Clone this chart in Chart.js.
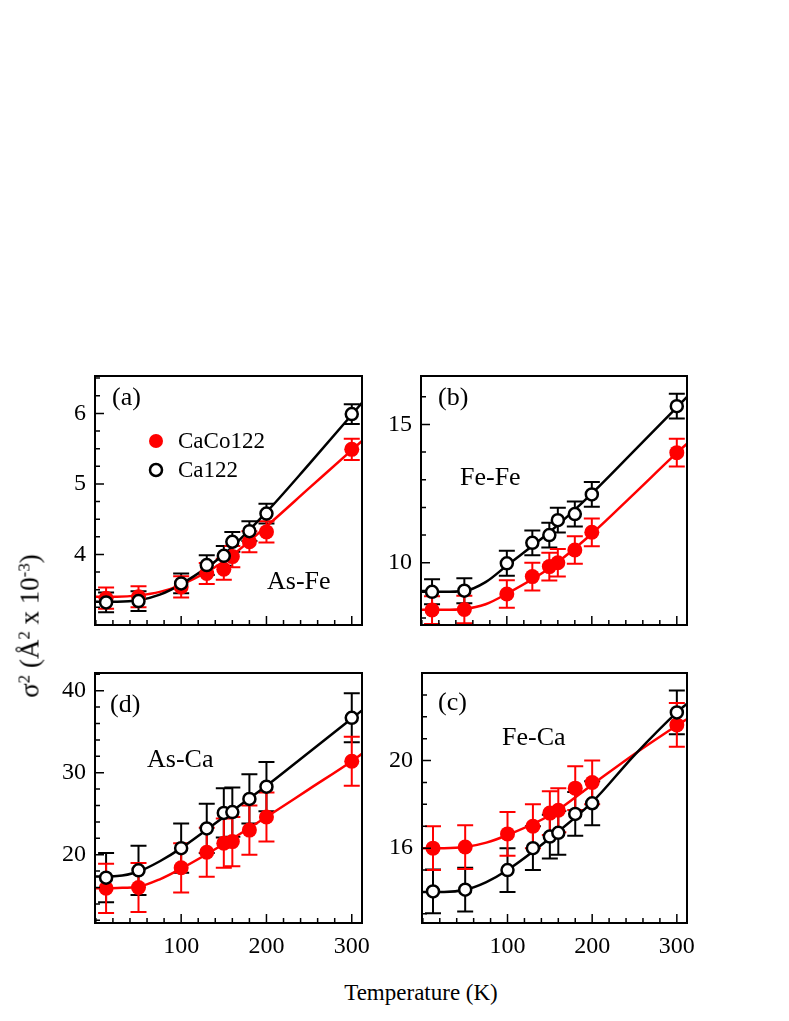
<!DOCTYPE html>
<html lang="en">
<head>
  <meta charset="UTF-8">
  <title>Mean square relative displacements</title>
  <script src="https://cdn.jsdelivr.net/npm/chart.js"></script>
  <style>
    body {
      margin: 0;
      background: #ffffff;
      font-family: "Liberation Serif", "Times New Roman", serif;
    }
    #page {
      position: relative;
      width: 789px;
      height: 1021px;
    }
    .panel { position: absolute; }
    #panelA { left: 25px; top: 346px; }
    #panelB { left: 351px; top: 346px; }
    #panelD { left: 25px; top: 643px; }
    #panelC { left: 352px; top: 643px; }
    #yTitle {
      position: absolute;
      left: 30px;
      top: 626px;
      transform: translate(-50%, -50%) rotate(-90deg);
      white-space: nowrap;
      font-size: 27px;
      color: #000;
    }
    #yTitle sup { font-size: 0.62em; vertical-align: 0.55em; line-height: 0; }
    #xTitle {
      position: absolute;
      left: 421px;
      top: 993px;
      transform: translate(-50%, -50%);
      white-space: nowrap;
      font-size: 23px;
      color: #000;
    }
  </style>
</head>
<body>
<div id="page">
  <div class="panel" id="panelA"><canvas id="chartA" width="367" height="324"></canvas></div>
  <div class="panel" id="panelB"><canvas id="chartB" width="366" height="324"></canvas></div>
  <div class="panel" id="panelD"><canvas id="chartD" width="367" height="325"></canvas></div>
  <div class="panel" id="panelC"><canvas id="chartC" width="365" height="325"></canvas></div>
  <div id="yTitle">&sigma;<sup>2</sup> (&Aring;<sup>2</sup> x 10<sup>-3</sup>)</div>
  <div id="xTitle">Temperature (K)</div>
</div>

<script>
  // measurement temperatures (K)
  const temps = [12, 50, 100, 130, 150, 160, 180, 200, 300];
  const fitTemps = [-1, 25, 50, 75, 100, 150, 200, 250, 300, 312];

  const xTicks = [100, 200, 300];

  // (a) As-Fe
  const asFeCaCo = [3.38, 3.40, 3.54, 3.73, 3.79, 3.97, 4.18, 4.32, 5.49];
  const asFeCaCoErr = [0.15, 0.15, 0.15, 0.15, 0.15, 0.15, 0.15, 0.15, 0.15];
  const asFeCa = [3.32, 3.34, 3.59, 3.85, 3.98, 4.18, 4.33, 4.58, 5.99];
  const asFeCaErr = [0.14, 0.14, 0.14, 0.14, 0.14, 0.14, 0.14, 0.14, 0.14];
  const asFeCaCoFit = [3.40, 3.40, 3.42, 3.47, 3.57, 3.90, 4.40, 4.94, 5.48, 5.61];
  const asFeCaFit = [3.33, 3.33, 3.35, 3.43, 3.58, 4.00, 4.60, 5.28, 5.98, 6.15];
  const yTicksA = [4, 5, 6];

  // (b) Fe-Fe
  const feFeCaCo = [8.29, 8.31, 8.87, 9.50, 9.86, 10.0, 10.46, 11.10, 13.98];
  const feFeCaCoErr = [0.5, 0.5, 0.5, 0.5, 0.5, 0.5, 0.5, 0.5, 0.5];
  const feFeCa = [8.95, 8.99, 9.98, 10.72, 11.0, 11.54, 11.76, 12.47, 15.66];
  const feFeCaErr = [0.45, 0.45, 0.45, 0.45, 0.45, 0.45, 0.45, 0.45, 0.45];
  const feFeCaCoFit = [8.30, 8.30, 8.33, 8.50, 8.88, 9.80, 11.05, 12.50, 13.97, 14.30];
  const feFeCaFit = [8.95, 8.95, 8.98, 9.30, 9.90, 11.10, 12.50, 14.05, 15.62, 16.00];
  const yTicksB = [10, 15];

  // (d) As-Ca
  const asCaCaCo = [15.9, 16.0, 18.4, 20.3, 21.4, 21.6, 23.0, 24.6, 31.4];
  const asCaCaCoErr = [3, 3, 3, 3, 3, 3, 3, 3, 3];
  const asCaCa = [17.2, 18.1, 20.8, 23.2, 25.1, 25.2, 26.8, 28.3, 36.7];
  const asCaCaErr = [3, 3, 3, 3, 3, 3, 3, 3, 3];
  const asCaCaCoFit = [15.9, 15.95, 16.1, 17.0, 18.3, 21.3, 24.6, 28.0, 31.4, 32.3];
  const asCaCaFit = [17.35, 17.4, 17.95, 19.2, 20.8, 24.6, 28.4, 32.5, 36.6, 37.6];
  const yTicksD = [20, 30, 40];

  // (c) Fe-Ca
  const feCaCaCo = [16.0, 16.05, 16.65, 17.0, 17.6, 17.73, 18.74, 19.0, 21.63];
  const feCaCaCoErr = [1, 1, 1, 1, 1, 1, 1, 1, 1];
  const feCaCa = [14.02, 14.1, 15.0, 16.0, 16.53, 16.7, 17.56, 18.05, 22.2];
  const feCaCaErr = [1, 1, 1, 1, 1, 1, 1, 1, 1];
  const feCaCaCoFit = [16.0, 16.0, 16.05, 16.25, 16.6, 17.5, 18.9, 20.3, 21.6, 21.9];
  const feCaCaFit = [14.0, 14.0, 14.1, 14.45, 15.0, 16.45, 18.1, 20.25, 22.2, 22.6];
  const yTicksC = [16, 20];

  const RED = '#ff0000';
  const BLACK = '#000000';
  const SERIF = '"Liberation Serif", "Times New Roman", serif';

  function pts(xs, ys) {
    return xs.map((x, i) => ({ x: x, y: ys[i] }));
  }

  // error bars, frame, inward ticks, panel labels, legend
  const panelDeco = {
    id: 'panelDeco',
    beforeDatasetsDraw(chart) {
      const ctx = chart.ctx, a = chart.chartArea;
      const xs = chart.scales.x, ys = chart.scales.y;
      ctx.save();
      ctx.beginPath();
      ctx.rect(a.left, a.top, a.right - a.left, a.bottom - a.top);
      ctx.clip();
      chart.data.datasets.forEach(ds => {
        if (!ds.yErr) return;
        ctx.strokeStyle = ds.borderColor === BLACK ? BLACK : RED;
        ctx.lineWidth = 2;
        ds.data.forEach((p, i) => {
          const x = xs.getPixelForValue(p.x);
          const lo = ys.getPixelForValue(p.y - ds.yErr[i]);
          const hi = ys.getPixelForValue(p.y + ds.yErr[i]);
          ctx.beginPath();
          ctx.moveTo(x, lo); ctx.lineTo(x, hi);
          ctx.moveTo(x - 8, lo); ctx.lineTo(x + 8, lo);
          ctx.moveTo(x - 8, hi); ctx.lineTo(x + 8, hi);
          ctx.stroke();
        });
      });
      ctx.restore();
    },
    afterDraw(chart, args, opts) {
      const ctx = chart.ctx, a = chart.chartArea;
      const xs = chart.scales.x, ys = chart.scales.y;
      ctx.save();
      ctx.strokeStyle = BLACK;

      // minor + major ticks pointing inward
      ctx.lineWidth = 1.5;
      ctx.beginPath();
      for (let k = Math.ceil(xs.min / 20); k * 20 <= xs.max; k++) {
        const v = k * 20;
        const x = xs.getPixelForValue(v);
        const len = xTicks.includes(v) ? 9 : 5;
        ctx.moveTo(x, a.bottom); ctx.lineTo(x, a.bottom - len);
      }
      const st = opts.yMinor;
      for (let k = Math.ceil(ys.min / st); k * st <= ys.max; k++) {
        const v = k * st;
        const y = ys.getPixelForValue(v);
        const len = opts.yMajor.some(m => Math.abs(m - v) < 1e-6) ? 9 : 5;
        ctx.moveTo(a.left, y); ctx.lineTo(a.left + len, y);
      }
      ctx.stroke();

      ctx.lineWidth = 2;
      ctx.strokeRect(a.left, a.top, a.right - a.left, a.bottom - a.top);

      ctx.fillStyle = BLACK;
      ctx.textAlign = 'left';
      ctx.textBaseline = 'middle';
      ctx.font = '26px ' + SERIF;
      ctx.fillText(opts.tag, a.left + opts.tagPos[0], a.top + opts.tagPos[1]);
      ctx.fillText(opts.pair, a.left + opts.pairPos[0], a.top + opts.pairPos[1]);

      if (opts.legend) {
        const lx = a.left + 61, ly = a.top + 65;
        ctx.font = '23px ' + SERIF;
        ctx.beginPath();
        ctx.arc(lx, ly, 7, 0, Math.PI * 2);
        ctx.fillStyle = RED;
        ctx.fill();
        ctx.beginPath();
        ctx.arc(lx, ly + 29, 6, 0, Math.PI * 2);
        ctx.fillStyle = '#ffffff';
        ctx.fill();
        ctx.lineWidth = 2.5;
        ctx.stroke();
        ctx.fillStyle = BLACK;
        ctx.fillText('CaCo122', lx + 22, ly + 1);
        ctx.fillText('Ca122', lx + 22, ly + 30);
      }
      ctx.restore();
    }
  };

  function makePanel(id, d) {
    return new Chart(document.getElementById(id), {
      type: 'scatter',
      data: {
        datasets: [
          {
            label: 'Ca122',
            data: pts(temps, d.ca),
            yErr: d.caErr,
            pointRadius: 6,
            pointBorderWidth: 2.5,
            borderColor: BLACK,
            backgroundColor: '#ffffff',
            order: 0
          },
          {
            label: 'CaCo122',
            data: pts(temps, d.caco),
            yErr: d.cacoErr,
            pointRadius: 7.5,
            pointBorderWidth: 0,
            borderColor: RED,
            backgroundColor: RED,
            order: 1
          },
          {
            label: 'Ca122 fit',
            data: pts(fitTemps, d.caFit),
            showLine: true,
            pointRadius: 0,
            borderColor: BLACK,
            borderWidth: 2.5,
            cubicInterpolationMode: 'monotone',
            order: 2
          },
          {
            label: 'CaCo122 fit',
            data: pts(fitTemps, d.cacoFit),
            showLine: true,
            pointRadius: 0,
            borderColor: RED,
            borderWidth: 2.5,
            cubicInterpolationMode: 'monotone',
            order: 3
          }
        ]
      },
      options: {
        responsive: false,
        animation: false,
        events: [],
        layout: { padding: { top: 30, right: 30, left: 0, bottom: 0 } },
        plugins: {
          legend: { display: false },
          tooltip: { enabled: false },
          panelDeco: d.deco
        },
        scales: {
          x: {
            type: 'linear',
            min: -1,
            max: 312,
            afterBuildTicks: s => { s.ticks = xTicks.map(v => ({ value: v })); },
            afterFit: s => { s.height = 45; },
            grid: { display: false, drawTicks: false },
            border: { display: false },
            ticks: {
              display: d.showX,
              padding: 9,
              color: BLACK,
              font: { family: SERIF, size: 24 },
              maxRotation: 0,
              callback: v => String(v)
            }
          },
          y: {
            type: 'linear',
            min: d.yMin,
            max: d.yMax,
            afterBuildTicks: s => { s.ticks = d.deco.yMajor.map(v => ({ value: v })); },
            afterFit: s => { s.width = 70; },
            grid: { display: false, drawTicks: false },
            border: { display: false },
            ticks: {
              padding: 9,
              color: BLACK,
              font: { family: SERIF, size: 24 },
              callback: v => String(v)
            }
          }
        }
      },
      plugins: [panelDeco]
    });
  }

  makePanel('chartA', {
    ca: asFeCa, caErr: asFeCaErr, caco: asFeCaCo, cacoErr: asFeCaCoErr,
    caFit: asFeCaFit, cacoFit: asFeCaCoFit,
    yMin: 3.0, yMax: 6.53, showX: false,
    deco: { yMajor: yTicksA, yMinor: 0.25, tag: '(a)', tagPos: [17, 22],
            pair: 'As-Fe', pairPos: [172, 206], legend: true }
  });

  makePanel('chartB', {
    ca: feFeCa, caErr: feFeCaErr, caco: feFeCaCo, cacoErr: feFeCaCoErr,
    caFit: feFeCaFit, cacoFit: feFeCaCoFit,
    yMin: 7.75, yMax: 16.75, showX: false,
    deco: { yMajor: yTicksB, yMinor: 1, tag: '(b)', tagPos: [17, 22],
            pair: 'Fe-Fe', pairPos: [39, 102], legend: false }
  });

  makePanel('chartD', {
    ca: asCaCa, caErr: asCaCaErr, caco: asCaCaCo, cacoErr: asCaCaCoErr,
    caFit: asCaCaFit, cacoFit: asCaCaCoFit,
    yMin: 11.67, yMax: 42.16, showX: true,
    deco: { yMajor: yTicksD, yMinor: 2, tag: '(d)', tagPos: [15, 32],
            pair: 'As-Ca', pairPos: [52, 87], legend: false }
  });

  makePanel('chartC', {
    ca: feCaCa, caErr: feCaCaErr, caco: feCaCaCo, cacoErr: feCaCaCoErr,
    caFit: feCaCaFit, cacoFit: feCaCaCoFit,
    yMin: 12.58, yMax: 24.0, showX: true,
    deco: { yMajor: yTicksC, yMinor: 1, tag: '(c)', tagPos: [16, 30],
            pair: 'Fe-Ca', pairPos: [80, 65], legend: false }
  });
</script>
</body>
</html>
